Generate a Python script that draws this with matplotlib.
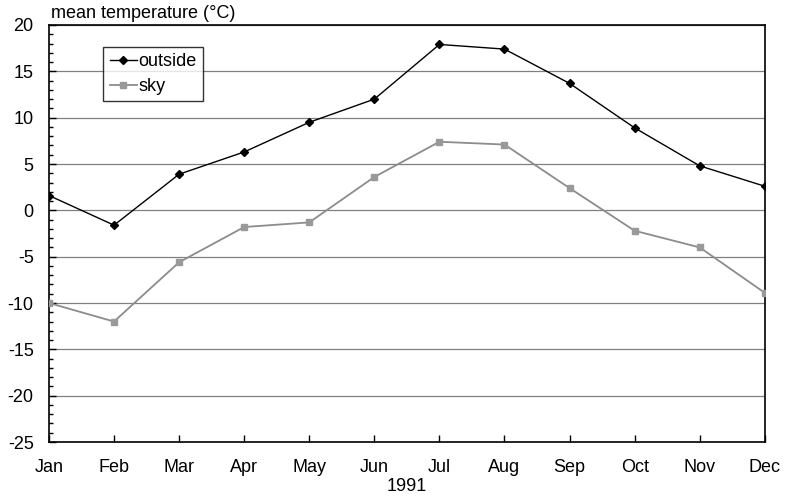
import matplotlib.pyplot as plt
import numpy as np
from matplotlib.ticker import MultipleLocator

plt.rcParams['font.family'] = ['Liberation Sans', 'DejaVu Sans']
plt.rcParams['axes.unicode_minus'] = False

months = ['Jan', 'Feb', 'Mar', 'Apr', 'May', 'Jun', 'Jul', 'Aug', 'Sep', 'Oct', 'Nov', 'Dec']
outside = [1.6, -1.6, 3.9, 6.3, 9.5, 12.0, 17.9, 17.4, 13.7, 8.9, 4.8, 2.6]
sky = [-10.0, -12.0, -5.6, -1.8, -1.3, 3.6, 7.4, 7.1, 2.4, -2.2, -4.0, -8.9]

fig = plt.figure(figsize=(7.86, 4.98), dpi=100)
ax = fig.add_axes([0.0623, 0.1124, 0.9107, 0.8374])

x = np.arange(len(months))
ax.plot(x, outside, color='black', linewidth=1, marker='D', markersize=4, label='outside', zorder=3)
ax.plot(x, sky, color='#8c8c8c', linewidth=1.3, marker='s', markersize=5,
        markerfacecolor='#999999', markeredgecolor='#999999', label='sky', zorder=3)

ax.set_xlim(0, 11)
ax.set_ylim(-25, 20)
ax.set_xticks(x)
ax.set_xticklabels(months)
ax.yaxis.set_major_locator(MultipleLocator(5))
ax.yaxis.set_minor_locator(MultipleLocator(1))
ax.grid(axis='y', which='major', color='#808080', linewidth=0.9)
ax.set_axisbelow(True)

ax.tick_params(axis='both', which='major', direction='in', length=5, width=1, labelsize=13)
ax.tick_params(axis='y', which='major', pad=11)
ax.tick_params(axis='x', which='major', pad=12)
ax.tick_params(axis='y', which='minor', direction='in', length=3, width=1)
for s in ax.spines.values():
    s.set_linewidth(1.2)

ax.text(0.003, 1.006, 'mean temperature (°C)', transform=ax.transAxes, fontsize=13,
        ha='left', va='bottom')
ax.set_xlabel('1991', fontsize=13, labelpad=2)

leg = ax.legend(loc='upper left', bbox_to_anchor=(0.076, 0.948), fontsize=13, frameon=True,
                fancybox=False, edgecolor='black', handlelength=1.5, handletextpad=0.1,
                borderpad=0.35, labelspacing=0.45, borderaxespad=0)
leg.get_frame().set_linewidth(1)

fig.savefig('out.png', dpi=100)
